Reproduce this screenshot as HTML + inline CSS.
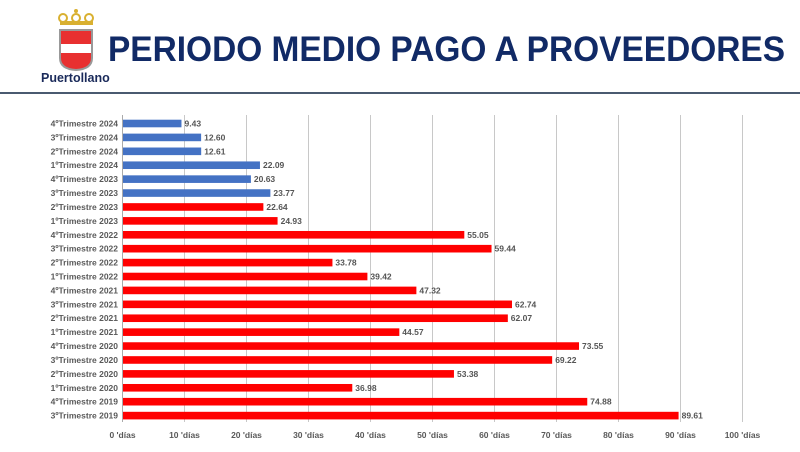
<!DOCTYPE html>
<html><head><meta charset="utf-8"><style>
body{margin:0;width:800px;height:447px;background:#fff;overflow:hidden;font-family:"Liberation Sans",sans-serif}
</style></head><body>
<svg width="800" height="447" xmlns="http://www.w3.org/2000/svg" font-family="Liberation Sans, sans-serif">
<g>
<circle cx="63" cy="18" r="4" fill="none" stroke="#d9b030" stroke-width="2"/>
<circle cx="76" cy="18" r="4" fill="none" stroke="#d9b030" stroke-width="2"/>
<circle cx="89" cy="18" r="4" fill="none" stroke="#d9b030" stroke-width="2"/>
<rect x="60" y="21" width="33" height="4" fill="#d9b030"/>
<circle cx="76" cy="11" r="2" fill="#d9b030"/>
<path d="M59 29 H93 V58 Q93 70 76 71 Q59 70 59 58 Z" fill="#999"/>
<path d="M61 31 H91 V44 H61 Z" fill="#e83030"/>
<path d="M61 44 H91 V53 H61 Z" fill="#fff"/>
<path d="M61 53 H91 V58 Q91 68 76 69 Q61 68 61 58 Z" fill="#e83030"/>
</g>
<text x="41" y="82" font-size="12.5" font-weight="bold" fill="#1a2a5a">Puertollano</text>
<text x="108" y="61" font-size="35" font-weight="bold" fill="#112a66" textLength="677" lengthAdjust="spacingAndGlyphs">PERIODO MEDIO PAGO A PROVEEDORES</text>
<rect x="0" y="92" width="800" height="2" fill="#4a5a70"/>
<g stroke="#c8c8c8" stroke-width="1">
<line x1="184.5" y1="115" x2="184.5" y2="422"/><line x1="246.5" y1="115" x2="246.5" y2="422"/>
<line x1="308.5" y1="115" x2="308.5" y2="422"/><line x1="370.5" y1="115" x2="370.5" y2="422"/>
<line x1="432.5" y1="115" x2="432.5" y2="422"/><line x1="494.5" y1="115" x2="494.5" y2="422"/>
<line x1="556.5" y1="115" x2="556.5" y2="422"/><line x1="618.5" y1="115" x2="618.5" y2="422"/>
<line x1="680.5" y1="115" x2="680.5" y2="422"/><line x1="742.5" y1="115" x2="742.5" y2="422"/>
</g>
<line x1="122.5" y1="115" x2="122.5" y2="422" stroke="#aaa"/>
<g fill="#4472c4">
<rect x="123" y="119.7" width="58.47" height="7.6"/>
<rect x="123" y="133.61" width="78.12" height="7.6"/>
<rect x="123" y="147.52" width="78.18" height="7.6"/>
<rect x="123" y="161.43" width="136.96" height="7.6"/>
<rect x="123" y="175.34" width="127.91" height="7.6"/>
<rect x="123" y="189.25" width="147.37" height="7.6"/>
</g>
<g fill="#ff0000">
<rect x="123" y="203.16" width="140.37" height="7.6"/>
<rect x="123" y="217.07" width="154.57" height="7.6"/>
<rect x="123" y="230.98" width="341.31" height="7.6"/>
<rect x="123" y="244.89" width="368.53" height="7.6"/>
<rect x="123" y="258.8" width="209.44" height="7.6"/>
<rect x="123" y="272.71" width="244.40" height="7.6"/>
<rect x="123" y="286.62" width="293.38" height="7.6"/>
<rect x="123" y="300.53" width="388.99" height="7.6"/>
<rect x="123" y="314.44" width="384.83" height="7.6"/>
<rect x="123" y="328.35" width="276.33" height="7.6"/>
<rect x="123" y="342.26" width="456.01" height="7.6"/>
<rect x="123" y="356.17" width="429.16" height="7.6"/>
<rect x="123" y="370.08" width="330.96" height="7.6"/>
<rect x="123" y="383.99" width="229.28" height="7.6"/>
<rect x="123" y="397.9" width="464.26" height="7.6"/>
<rect x="123" y="411.81" width="555.58" height="7.6"/>
</g>
<g font-size="8.5" font-weight="bold" fill="#595959" text-anchor="end">
<text x="118" y="126.5">4ºTrimestre 2024</text>
<text x="118" y="140.41">3ºTrimestre 2024</text>
<text x="118" y="154.32">2ºTrimestre 2024</text>
<text x="118" y="168.23">1ºTrimestre 2024</text>
<text x="118" y="182.14">4ºTrimestre 2023</text>
<text x="118" y="196.05">3ºTrimestre 2023</text>
<text x="118" y="209.96">2ºTrimestre 2023</text>
<text x="118" y="223.87">1ºTrimestre 2023</text>
<text x="118" y="237.78">4ºTrimestre 2022</text>
<text x="118" y="251.69">3ºTrimestre 2022</text>
<text x="118" y="265.6">2ºTrimestre 2022</text>
<text x="118" y="279.51">1ºTrimestre 2022</text>
<text x="118" y="293.42">4ºTrimestre 2021</text>
<text x="118" y="307.33">3ºTrimestre 2021</text>
<text x="118" y="321.24">2ºTrimestre 2021</text>
<text x="118" y="335.15">1ºTrimestre 2021</text>
<text x="118" y="349.06">4ºTrimestre 2020</text>
<text x="118" y="362.97">3ºTrimestre 2020</text>
<text x="118" y="376.88">2ºTrimestre 2020</text>
<text x="118" y="390.79">1ºTrimestre 2020</text>
<text x="118" y="404.7">4ºTrimestre 2019</text>
<text x="118" y="418.61">3ºTrimestre 2019</text>
</g>
<g font-size="8.5" font-weight="bold" fill="#555">
<text x="184.5" y="126.5">9.43</text>
<text x="204.1" y="140.41">12.60</text>
<text x="204.2" y="154.32">12.61</text>
<text x="263" y="168.23">22.09</text>
<text x="253.9" y="182.14">20.63</text>
<text x="273.4" y="196.05">23.77</text>
<text x="266.4" y="209.96">22.64</text>
<text x="280.6" y="223.87">24.93</text>
<text x="467.3" y="237.78">55.05</text>
<text x="494.5" y="251.69">59.44</text>
<text x="335.4" y="265.6">33.78</text>
<text x="370.4" y="279.51">39.42</text>
<text x="419.4" y="293.42">47.32</text>
<text x="515" y="307.33">62.74</text>
<text x="510.8" y="321.24">62.07</text>
<text x="402.3" y="335.15">44.57</text>
<text x="582" y="349.06">73.55</text>
<text x="555.2" y="362.97">69.22</text>
<text x="457" y="376.88">53.38</text>
<text x="355.3" y="390.79">36.98</text>
<text x="590.3" y="404.7">74.88</text>
<text x="681.6" y="418.61">89.61</text>
</g>
<g font-size="8.5" font-weight="bold" fill="#595959" text-anchor="middle">
<text x="122.5" y="438">0 'días</text><text x="184.5" y="438">10 'días</text><text x="246.5" y="438">20 'días</text>
<text x="308.5" y="438">30 'días</text><text x="370.5" y="438">40 'días</text><text x="432.5" y="438">50 'días</text>
<text x="494.5" y="438">60 'días</text><text x="556.5" y="438">70 'días</text><text x="618.5" y="438">80 'días</text>
<text x="680.5" y="438">90 'días</text><text x="742.5" y="438">100 'días</text>
</g>
</svg>
</body></html>
